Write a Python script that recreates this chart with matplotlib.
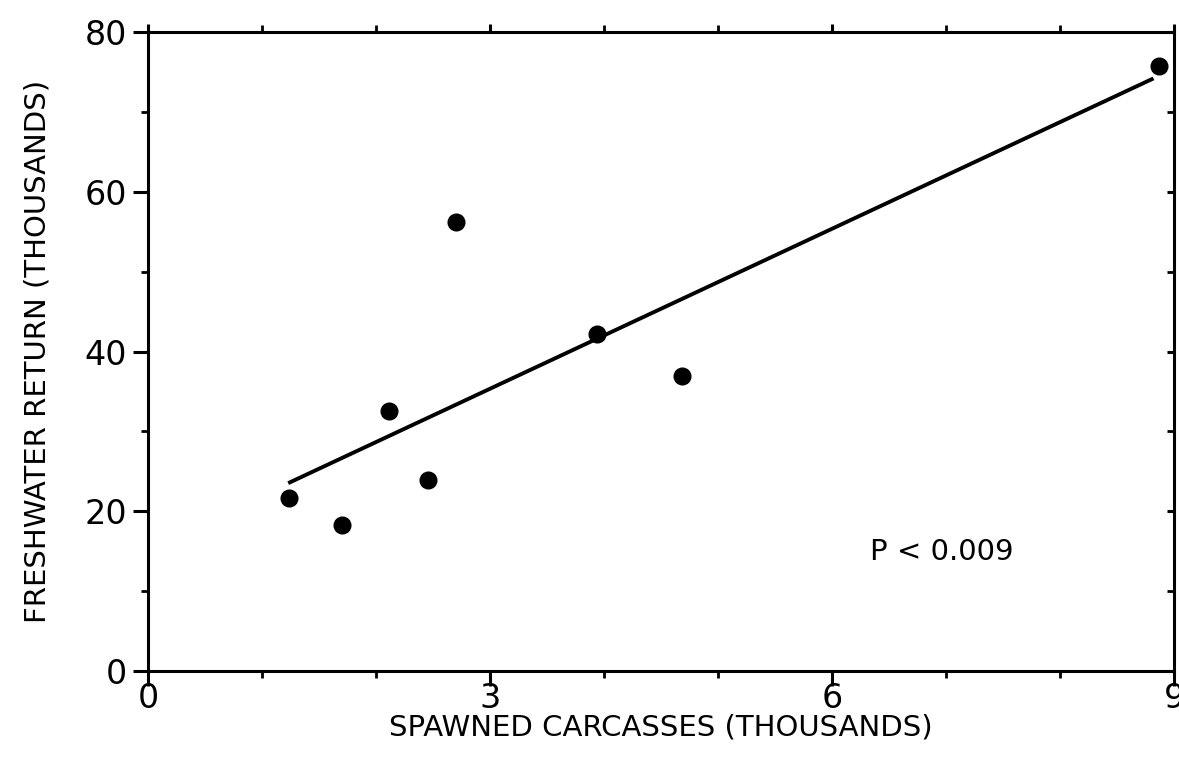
import numpy as np
import matplotlib
matplotlib.use("Agg")
import matplotlib.pyplot as plt
from matplotlib.ticker import MultipleLocator
from matplotlib.lines import TICKLEFT

# Spawned carcasses vs. freshwater return (both in thousands)
carcasses = [1.24, 1.70, 2.11, 2.46, 2.70, 3.94, 4.68, 8.87]
returns = [21.7, 18.3, 32.5, 23.9, 56.2, 42.2, 36.9, 75.7]

x_ticks = [0, 3, 6, 9]
y_ticks = [0, 20, 40, 60, 80]
p_label = "P < 0.009"

plt.rcParams["font.family"] = ["DejaVu Sans"]

fig = plt.figure(figsize=(11.79, 7.57), dpi=100)
ax = fig.add_axes([0.1255, 0.1136, 0.8703, 0.8441])

# Least-squares fit over the observed range
slope, intercept = np.polyfit(carcasses, returns, 1)
fit_x = np.array([1.23, 8.82])
ax.plot(fit_x, slope * fit_x + intercept, color="black", lw=2.8,
        solid_capstyle="butt", zorder=2)

ax.plot(carcasses, returns, "o", color="black", markersize=12, zorder=3)

ax.set_xlim(0, 9)
ax.set_ylim(0, 80)

for side in ax.spines.values():
    side.set_linewidth(2.2)

ax.set_xticks(x_ticks)
ax.set_yticks(y_ticks)
ax.xaxis.set_minor_locator(MultipleLocator(1))
ax.yaxis.set_minor_locator(MultipleLocator(10))

ax.tick_params(axis="both", which="major", direction="out", length=11,
               width=2.2, labelsize=24, pad=4)
ax.tick_params(axis="both", which="minor", direction="out", length=5,
               width=2.0)
ax.tick_params(axis="x", which="both", top=True)
ax.tick_params(axis="y", which="both", right=True)
ax.tick_params(axis="x", which="major", pad=-3)

# Top and right edges carry only short ticks; right ones point inward
for t in ax.xaxis.get_major_ticks():
    t.tick2line.set_markersize(6)
for t in ax.yaxis.get_major_ticks() + ax.yaxis.get_minor_ticks():
    t.tick2line.set_marker(TICKLEFT)
    t.tick2line.set_markersize(5)

ax.set_xlabel("SPAWNED CARCASSES (THOUSANDS)", fontsize=21, labelpad=-1)
ax.set_ylabel("FRESHWATER RETURN (THOUSANDS)", fontsize=21, labelpad=24)

ax.text(6.33, 14.9, p_label, fontsize=21, ha="left", va="center")

fig.savefig("out.png", dpi=100)
